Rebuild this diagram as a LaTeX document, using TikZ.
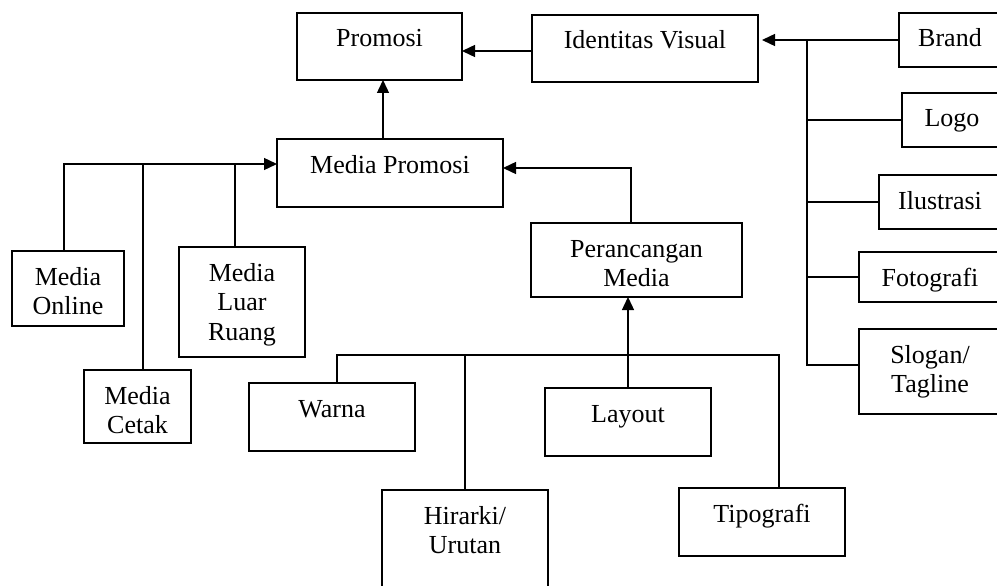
\documentclass[tikz,border=0pt]{standalone}
\usepackage{fontspec}
\setmainfont{Liberation Serif}
\usetikzlibrary{arrows.meta}
\tikzset{
  bx/.style={draw, line width=1.4pt, inner sep=0pt, outer sep=0pt, anchor=north west, rectangle},
  ln/.style={line width=1.4pt},
  arr/.style={line width=1.4pt, -{Triangle[length=13pt,width=12pt]}},
}
\newcommand{\bxt}[3]{\parbox[c][#2pt][t]{#1pt}{\centering\fontsize{26}{29.5}\selectfont\rule{0pt}{34pt}#3\par}}
\begin{document}
\begin{tikzpicture}[x=1pt,y=-1pt]
\useasboundingbox (0,0) rectangle (997,586);
\clip (0,0) rectangle (997,586);
% boxes
\node[bx] (promosi) at (297,13)  {\bxt{165}{67}{Promosi}};
\node[bx] (iv)      at (532,15)  {\bxt{226}{67}{Identitas Visual}};
\node[bx] (brand)   at (899,13)  {\bxt{102}{54}{Brand}};
\node[bx] (logo)    at (902,93)  {\bxt{100}{54}{Logo}};
\node[bx] (ilus)    at (879,175) {\bxt{122}{54}{Ilustrasi}};
\node[bx] (foto)    at (859,252) {\bxt{142}{50}{Fotografi}};
\node[bx] (slogan)  at (859,329) {\bxt{142}{85}{Slogan/\\Tagline}};
\node[bx] (mp)      at (277,139) {\bxt{226}{68}{Media Promosi}};
\node[bx] (online)  at (12,251)  {\bxt{112}{75}{Media\\Online}};
\node[bx] (cetak)   at (84,370)  {\bxt{107}{73}{Media\\Cetak}};
\node[bx] (luar)    at (179,247) {\bxt{126}{110}{Media\\Luar\\Ruang}};
\node[bx] (pm)      at (531,223) {\bxt{211}{74}{Perancangan\\Media}};
\node[bx] (warna)   at (249,383) {\bxt{166}{68}{Warna}};
\node[bx] (layout)  at (545,388) {\bxt{166}{68}{Layout}};
\node[bx] (hir)     at (382,490) {\bxt{166}{110}{Hirarki/\\Urutan}};
\node[bx] (tipo)    at (679,488) {\bxt{166}{68}{Tipografi}};
% helper coordinates
\coordinate (tk) at (807,41);
\coordinate (lb) at ([yshift=9pt]mp.west);
\coordinate (bus) at (629,355);
% top connectors
\draw[arr] ([xshift=-7pt]mp.north) -- ([xshift=-7pt]mp.north |- promosi.south);
\draw[arr] ([yshift=-2.5pt]iv.west) -- ([yshift=-2.5pt]iv.west -| promosi.east);
\draw[arr, shorten >=4pt] (brand.west) -- (brand.west -| iv.east);
% right trunk
\draw[ln] (tk) |- ([yshift=6.5pt]slogan.west);
\draw[ln] (tk |- logo.west) -- (logo.west);
\draw[ln] (tk |- ilus.west) -- (ilus.west);
\draw[ln] (tk |- foto.west) -- (foto.west);
% left bus
\draw[arr] ([xshift=-4pt]online.north) |- (lb);
\draw[ln] ([xshift=5.5pt]cetak.north) -- ([xshift=5.5pt]cetak.north |- lb);
\draw[ln] ([xshift=-7pt]luar.north) -- ([xshift=-7pt]luar.north |- lb);
% perancangan to media promosi
\draw[arr] ([xshift=-5.5pt]pm.north) |- ([yshift=5pt]mp.east);
% bottom bus
\draw[arr] (layout.north) -- (layout.north |- pm.south);
\draw[ln] ([xshift=5pt]warna.north) |- (bus) -| ([xshift=17pt]tipo.north);
\draw[ln] (hir.north) -- (hir.north |- bus);
\end{tikzpicture}
\end{document}
